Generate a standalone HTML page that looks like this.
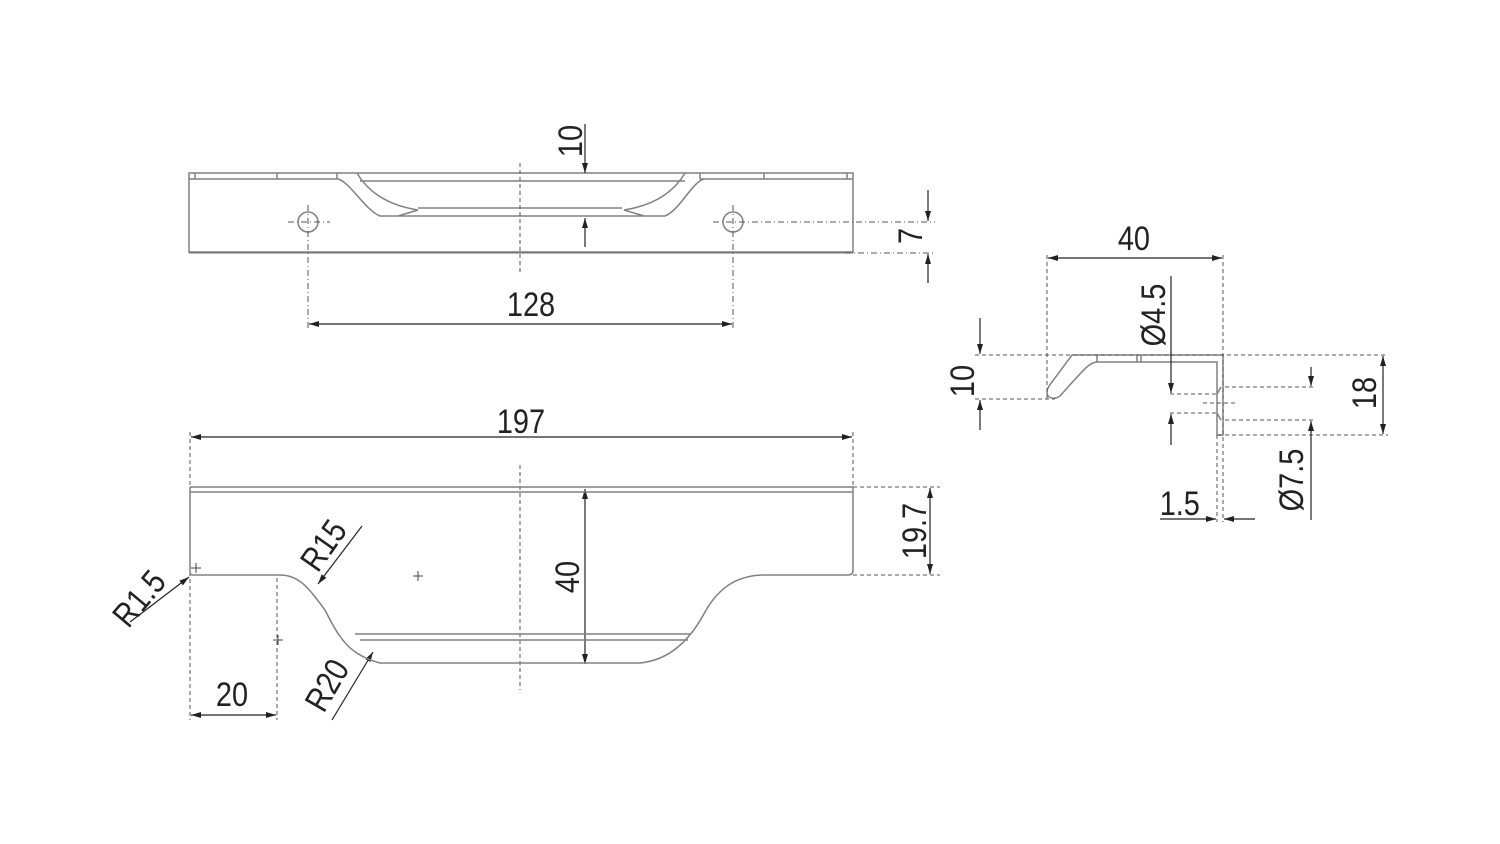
<!DOCTYPE html>
<html><head><meta charset="utf-8"><style>
html,body{margin:0;padding:0;background:#fff}
svg{display:block}
text{font-family:"Liberation Sans",sans-serif;font-size:34px;fill:#222}
</style></head><body>
<svg width="1500" height="844" viewBox="0 0 1500 844" xmlns="http://www.w3.org/2000/svg">
<defs>
<marker id="a" viewBox="0 0 10 6" refX="10" refY="3" markerWidth="10" markerHeight="6" orient="auto-start-reverse" markerUnits="userSpaceOnUse"><path d="M0,0L10,3L0,6z" fill="#222"/></marker>
</defs>
<g fill="none" stroke="#808080" stroke-width="1.5">
<!-- TOP VIEW -->
<rect x="189" y="173" width="664" height="79"/>
<line x1="189" y1="252.5" x2="853" y2="252.5" stroke="#777" stroke-width="2"/>
<path d="M189,179H338M700,179H853M195,173V179M847,173V179M277,173V179M337,173V179M700,173V179M764,173V179"/>
<path d="M338,179C350,182 365,210 380,216H665C680,210 692,182 704,179"/>
<path d="M357,173C370,195 392,206 418,210L398,216M418,208H622M685,173C672,195 650,206 624,210L644,216M360,181H685"/>
<circle cx="308" cy="222" r="10"/>
<circle cx="733" cy="222" r="10"/>
</g>
<g fill="none" stroke="#555" stroke-width="1" stroke-dasharray="6,3,1,3">
<line x1="288" y1="222" x2="330" y2="222"/><line x1="308" y1="205" x2="308" y2="330"/>
<line x1="713" y1="222" x2="935" y2="222"/><line x1="733" y1="205" x2="733" y2="330"/>
<line x1="845" y1="253" x2="935" y2="253"/>
</g>
<g fill="none" stroke="#555" stroke-width="1" stroke-dasharray="4,3">
<line x1="520" y1="163" x2="520" y2="274"/>
<line x1="520" y1="465" x2="520" y2="690"/>
<line x1="190" y1="432" x2="190" y2="720"/>
<line x1="853" y1="432" x2="853" y2="490"/>
<line x1="277" y1="578" x2="277" y2="720"/>
<line x1="853" y1="487" x2="940" y2="487"/>
<line x1="853" y1="575" x2="940" y2="575"/>
</g>
<g fill="none" stroke="#222" stroke-width="1.2">
<line x1="585" y1="124" x2="585" y2="173" marker-end="url(#a)"/>
<line x1="585" y1="247" x2="585" y2="218" marker-end="url(#a)"/>
<line x1="928" y1="190" x2="928" y2="221" marker-end="url(#a)"/>
<line x1="928" y1="283" x2="928" y2="254" marker-end="url(#a)"/>
<line x1="309" y1="324" x2="732" y2="324" marker-start="url(#a)" marker-end="url(#a)"/>
<line x1="191" y1="437" x2="852" y2="437" marker-start="url(#a)" marker-end="url(#a)"/>
<line x1="585" y1="489" x2="585" y2="664" marker-start="url(#a)" marker-end="url(#a)"/>
<line x1="930" y1="488" x2="930" y2="574" marker-start="url(#a)" marker-end="url(#a)"/>
<line x1="191" y1="715" x2="276" y2="715" marker-start="url(#a)" marker-end="url(#a)"/>
<line x1="362" y1="526" x2="318" y2="584" marker-end="url(#a)"/>
<line x1="332" y1="720" x2="373" y2="652" marker-end="url(#a)"/>
<line x1="130" y1="622" x2="189" y2="577" marker-end="url(#a)"/>
</g>
<!-- BOTTOM VIEW -->
<g fill="none" stroke="#808080" stroke-width="1.5">
<path d="M190,487H853M190,492H853"/>
<path d="M190,487V572Q190,575 193,575H280C300,575 310,590 325,610C340,640 350,655 380,663H640C670,660 690,640 705,612C720,585 740,575 765,575H848Q853,575 853,570V487"/>
<path d="M355,634H690M360,640H688"/>
</g>
<g stroke="#444" stroke-width="1">
<path d="M196,563V573M191,568H201M418,571V581M413,576H423M278,635V645M273,640H283"/>
</g>
<!-- SIDE VIEW -->
<g fill="none" stroke="#808080" stroke-width="1.5">
<path d="M1072,355H1223V435H1217V362H1097C1090,362 1085,368 1060,396Q1054,400 1049,397Q1045,393 1049,386Z"/>
<path d="M1097,355V362M1137,355V362M1141,355V362"/>
<path d="M1217,394L1221,387M1217,413L1221,420"/>
</g>
<g fill="none" stroke="#555" stroke-width="1" stroke-dasharray="4,3">
<line x1="1047" y1="255" x2="1047" y2="399"/>
<line x1="1223" y1="255" x2="1223" y2="522"/>
<line x1="1217" y1="435" x2="1217" y2="522"/>
<line x1="975" y1="355" x2="1388" y2="355"/>
<line x1="975" y1="399" x2="1055" y2="399"/>
<line x1="1170" y1="394" x2="1217" y2="394"/>
<line x1="1170" y1="413" x2="1217" y2="413"/>
<line x1="1225" y1="387" x2="1315" y2="387"/>
<line x1="1225" y1="420" x2="1315" y2="420"/>
<line x1="1218" y1="435" x2="1388" y2="435"/>
<line x1="1203" y1="403" x2="1237" y2="403"/>
</g>
<g fill="none" stroke="#222" stroke-width="1.2">
<line x1="1048" y1="258" x2="1222" y2="258" marker-start="url(#a)" marker-end="url(#a)"/>
<line x1="980" y1="318" x2="980" y2="354" marker-end="url(#a)"/>
<line x1="980" y1="430" x2="980" y2="400" marker-end="url(#a)"/>
<line x1="1171" y1="276" x2="1171" y2="393" marker-end="url(#a)"/>
<line x1="1171" y1="445" x2="1171" y2="414" marker-end="url(#a)"/>
<line x1="1311" y1="367" x2="1311" y2="386" marker-end="url(#a)"/>
<line x1="1311" y1="520" x2="1311" y2="421" marker-end="url(#a)"/>
<line x1="1383" y1="356" x2="1383" y2="434" marker-start="url(#a)" marker-end="url(#a)"/>
<line x1="1160" y1="519" x2="1216" y2="519" marker-end="url(#a)"/>
<line x1="1255" y1="519" x2="1224" y2="519" marker-end="url(#a)"/>
</g>
<!-- TEXT -->
<g transform="scale(0.85,1)">
<text x="624.7" y="316" text-anchor="middle">128</text>
<text x="612.9" y="433" text-anchor="middle">197</text>
<text x="272.9" y="706" text-anchor="middle">20</text>
<text x="1334" y="250" text-anchor="middle">40</text>
<text x="1388" y="515" text-anchor="middle">1.5</text>
</g>
<g>
<text transform="translate(582,141) rotate(-90) scale(0.85,1)" text-anchor="middle">10</text>
<text transform="translate(922,236) rotate(-90) scale(0.85,1)" text-anchor="middle">7</text>
<text transform="translate(579,577) rotate(-90) scale(0.85,1)" text-anchor="middle">40</text>
<text transform="translate(926,531) rotate(-90) scale(0.85,1)" text-anchor="middle">19.7</text>
<text transform="translate(974,381) rotate(-90) scale(0.85,1)" text-anchor="middle">10</text>
<text transform="translate(1165,315) rotate(-90) scale(0.85,1)" text-anchor="middle">Ø4.5</text>
<text transform="translate(1303,480) rotate(-90) scale(0.85,1)" text-anchor="middle">Ø7.5</text>
<text transform="translate(1376,393) rotate(-90) scale(0.85,1)" text-anchor="middle">18</text>
<text transform="translate(333,552) rotate(-55) scale(0.85,1)" text-anchor="middle">R15</text>
<text transform="translate(337,691) rotate(-60) scale(0.85,1)" text-anchor="middle">R20</text>
<text transform="translate(148,606) rotate(-50) scale(0.85,1)" text-anchor="middle">R1.5</text>
</g>
</svg>
</body></html>
